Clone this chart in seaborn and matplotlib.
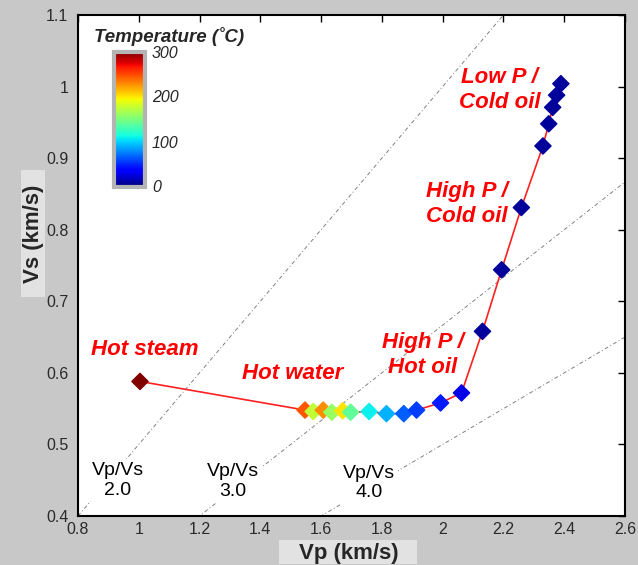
import numpy as np
import pandas as pd
import matplotlib
matplotlib.use('Agg')
import matplotlib.pyplot as plt
from matplotlib.patches import Rectangle
from matplotlib.cm import ScalarMappable
from matplotlib.colors import Normalize
import seaborn as sns

# data: P-wave / S-wave velocity path and temperature
vp = [1.004, 1.547, 1.574, 1.607, 1.635, 1.671, 1.697, 1.758, 1.815, 1.872, 1.914,
      1.993, 2.062, 2.131, 2.194, 2.259, 2.330, 2.349, 2.362, 2.375, 2.389]
vs = [0.588, 0.548, 0.546, 0.548, 0.545, 0.547, 0.545, 0.546, 0.543, 0.543, 0.548,
      0.558, 0.572, 0.658, 0.744, 0.831, 0.917, 0.948, 0.971, 0.988, 1.004]
temp = [300, 245, 175, 228, 160, 200, 140, 108, 90, 65, 56,
        45, 28, 8, 8, 8, 8, 8, 8, 8, 8]

ratios = [2.0, 3.0, 4.0]
ratio_label_pos = [(0.93, 0.450), (1.31, 0.448), (1.757, 0.446)]

regions = ['Hot steam', 'Hot water', 'High P /\nHot oil', 'High P /\nCold oil', 'Low P /\nCold oil']
region_pos = [(0.843, 0.633), (1.506, 0.599), (1.935, 0.625), (2.08, 0.836), (2.188, 0.995)]

xticks = [0.8, 1.0, 1.2, 1.4, 1.6, 1.8, 2.0, 2.2, 2.4, 2.6]
yticks = [0.4, 0.5, 0.6, 0.7, 0.8, 0.9, 1.0, 1.1]
cbar_ticks = [0, 100, 200, 300]

df = pd.DataFrame({'Vp': vp, 'Vs': vs, 'T': temp})

sns.set_style('white')
plt.rcParams['font.family'] = ['Liberation Sans', 'DejaVu Sans']

jet = plt.get_cmap('jet')
bg = '#c8c8c8'
fig = plt.figure(figsize=(6.38, 5.65), dpi=100, facecolor=bg)
ax = fig.add_axes([78 / 638, 1 - 516 / 565, 547 / 638, 501 / 565])
ax.set_facecolor('white')

# constant Vp/Vs guide lines
vp_ext = np.array([0.8, 2.6])
for r in ratios:
    ax.plot(vp_ext, vp_ext / r, color='#808080', lw=0.7,
            linestyle=(0, (4, 2.5, 1, 2.5)), zorder=1)
for r, (px, py) in zip(ratios, ratio_label_pos):
    ax.text(px, py, f'Vp/Vs\n{r:.1f}', ha='center', va='center', fontsize=14,
            linespacing=1.2, color='black', zorder=2,
            bbox=dict(boxstyle='square,pad=0.15', fc='white', ec='none'))

sns.lineplot(data=df, x='Vp', y='Vs', sort=False, estimator=None, color='#ff2020',
             lw=1.2, ax=ax, zorder=3)
sns.scatterplot(data=df, x='Vp', y='Vs', hue='T', palette=jet, hue_norm=(0, 300),
                marker='D', s=68, linewidth=1.0, legend=False, ax=ax, zorder=4)
ax.collections[-1].set_edgecolor('face')

for txt, (px, py) in zip(regions, region_pos):
    ax.text(px, py, txt, ha='left' if txt == 'Hot steam' else 'center', va='center',
            fontsize=16, fontweight='bold', style='italic', color='#ff0000',
            linespacing=1.28, zorder=5)

ax.set_xlim(0.8, 2.6)
ax.set_ylim(0.4, 1.1)
ax.set_xticks(xticks)
ax.set_yticks(yticks)
ax.set_xticklabels([f'{v:g}' for v in xticks])
ax.set_yticklabels([f'{v:g}' for v in yticks])
ax.tick_params(direction='in', length=5, width=1, top=True, right=True,
               colors='black', labelcolor='#2a2a2a', labelsize=11.5)
ax.tick_params(axis='x', pad=4)
ax.tick_params(axis='y', pad=7)
for sp in ax.spines.values():
    sp.set_visible(True)
    sp.set_color('black')
    sp.set_linewidth(1.5)
ax.set_xlabel('')
ax.set_ylabel('')

# axis labels on light grey plates
fig.patches.append(Rectangle((279 / 638, 1 - 564 / 565), 138 / 638, 24 / 565,
                             transform=fig.transFigure, fc='#e2e2e2', ec='none'))
fig.patches.append(Rectangle((21 / 638, 1 - 297 / 565), 24 / 638, 127 / 565,
                             transform=fig.transFigure, fc='#e2e2e2', ec='none'))
fig.text(349 / 638, 1 - 553 / 565, 'Vp (km/s)', ha='center', va='center',
         fontsize=16, fontweight='bold')
fig.text(33 / 638, 1 - 234 / 565, 'Vs (km/s)', ha='center', va='center',
         fontsize=16, fontweight='bold', rotation=90)

# temperature colour bar
cax = fig.add_axes([113.5 / 638, 1 - 186.5 / 565, 31.5 / 638, 135 / 565])
sm = ScalarMappable(norm=Normalize(0, 300), cmap=jet)
cb = fig.colorbar(sm, cax=cax, ticks=cbar_ticks)
cb.outline.set_edgecolor('#b4b4b4')
cb.outline.set_linewidth(3)
cax.yaxis.set_minor_locator(matplotlib.ticker.MultipleLocator(50))
cax.tick_params(which='both', direction='in', left=True, right=True, length=3,
                width=0.6, color='#333333', labelsize=11.5, pad=5)
for lab in cax.get_yticklabels():
    lab.set_style('italic')
fig.text(169 / 638, 1 - 37 / 565, 'Temperature (\u02daC)', ha='center', va='center',
         fontsize=13.5, fontweight='bold', style='italic')

fig.savefig('out.png', dpi=100, facecolor=bg)
